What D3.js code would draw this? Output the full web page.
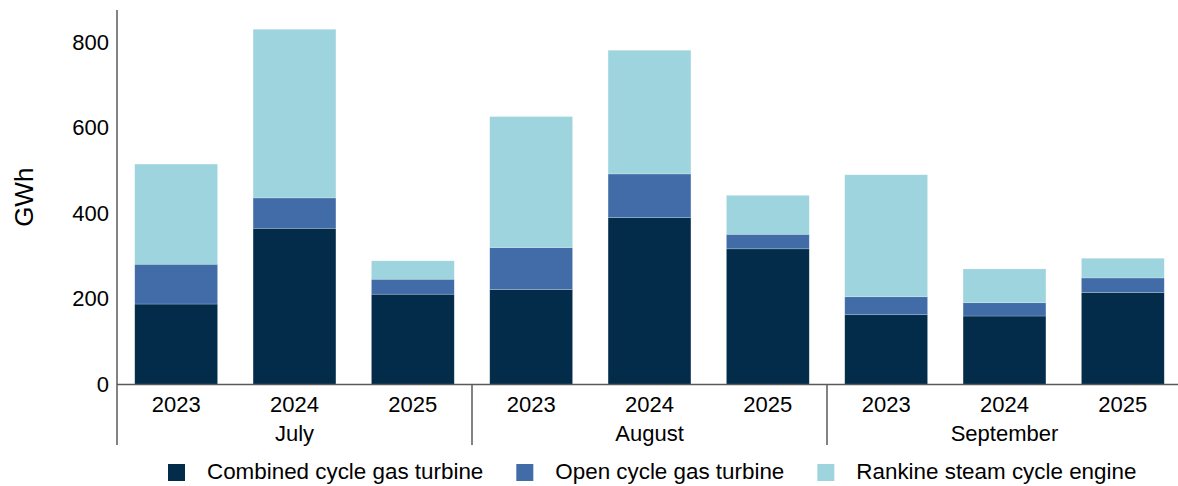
<!DOCTYPE html>
<html>
<head>
<meta charset="utf-8">
<script src="https://cdn.jsdelivr.net/npm/d3@7"></script>
<style>
  html, body { margin: 0; padding: 0; background: #fff; }
  svg { display: block; font-family: "Liberation Sans", Arial, sans-serif; }
</style>
</head>
<body>
<svg id="chart" width="1178" height="486"></svg>
<script>
const months = ["July", "August", "September"];
const years = ["2023", "2024", "2025"];
const seriesNames = ["Combined cycle gas turbine", "Open cycle gas turbine", "Rankine steam cycle engine"];
const seriesColors = ["#022c4a", "#426ca8", "#9dd4dd"];
// values in GWh, order: Jul 23, Jul 24, Jul 25, Aug 23, Aug 24, Aug 25, Sep 23, Sep 24, Sep 25
const combinedCycle = [188, 365, 211, 222, 390, 317, 163, 160, 215];
const openCycle     = [93, 71, 35, 98, 102, 34, 42, 31, 34];
const rankine       = [234, 394, 43, 306, 289, 91, 285, 79, 46];
const yTicks = [0, 200, 400, 600, 800];
const yMax = 875;

(function () {
const svg = d3.select("#chart");
const mLeft = 117, mRight = 1182, mTop = 10, mBottom = 384.5;

const cats = [];
months.forEach(m => years.forEach(y => cats.push({key: m + "-" + y, month: m, year: y})));
const rows = cats.map((c, i) => ({key: c.key, cc: combinedCycle[i], oc: openCycle[i], rk: rankine[i]}));

const x = d3.scaleBand().domain(cats.map(c => c.key)).range([mLeft, mRight]).paddingInner(0.3).paddingOuter(0.15);
const y = d3.scaleLinear().domain([0, yMax]).range([mBottom, mTop]);

const stacked = d3.stack().keys(["cc", "oc", "rk"])(rows);

svg.append("g").selectAll("g.series").data(stacked).join("g")
  .attr("class", "series")
  .attr("fill", (d, i) => seriesColors[i])
  .selectAll("rect").data(d => d).join("rect")
  .attr("x", d => x(d.data.key))
  .attr("width", x.bandwidth())
  .attr("y", d => y(d[1]))
  .attr("height", d => y(d[0]) - y(d[1]))
  .attr("stroke", "#ffffff")
  .attr("stroke-opacity", 0.35)
  .attr("stroke-width", 0.6);

const yAxis = d3.axisLeft(y).tickValues(yTicks).tickSize(0).tickPadding(8);
const ya = svg.append("g").attr("transform", `translate(${mLeft},0)`).call(yAxis);
ya.select(".domain").remove();
ya.selectAll("text").attr("font-size", 22).attr("fill", "#000").attr("font-family", "Liberation Sans, Arial, sans-serif");

const axisColor = "#5a5a5a";
svg.append("line").attr("x1", mLeft).attr("x2", mLeft).attr("y1", mTop).attr("y2", 445)
  .attr("stroke", axisColor).attr("stroke-width", 1.5);
svg.append("line").attr("x1", mLeft).attr("x2", mRight).attr("y1", mBottom).attr("y2", mBottom)
  .attr("stroke", axisColor).attr("stroke-width", 1.5);

const xAxis = d3.axisBottom(x).tickSize(0).tickPadding(12).tickFormat(k => k.split("-")[1]);
const xa = svg.append("g").attr("transform", `translate(0,${mBottom})`).call(xAxis);
xa.select(".domain").remove();
xa.selectAll("text").attr("font-size", 22).attr("fill", "#000").attr("font-family", "Liberation Sans, Arial, sans-serif");

const groupW = x.step() * 3;
months.forEach((m, i) => {
  const gx0 = mLeft + i * groupW;
  svg.append("line").attr("x1", gx0 + groupW).attr("x2", gx0 + groupW).attr("y1", mBottom).attr("y2", 445)
    .attr("stroke", axisColor).attr("stroke-width", 1.5);
  svg.append("text").attr("x", gx0 + groupW / 2).attr("y", 441)
    .attr("text-anchor", "middle").attr("font-size", 22).attr("fill", "#000").text(m);
});

svg.append("text").attr("transform", `translate(33,${(mTop + mBottom) / 2}) rotate(-90)`)
  .attr("text-anchor", "middle").attr("font-size", 26).attr("fill", "#000").text("GWh");

const legend = svg.append("g");
const items = legend.selectAll("g").data(seriesNames).join("g");
items.append("rect").attr("width", 17).attr("height", 17).attr("y", -15).attr("fill", (d, i) => seriesColors[i]);
items.append("text").attr("x", 39).attr("y", 0).attr("font-size", 22.4).attr("fill", "#000").text(d => d);
let cx = 0;
items.each(function () {
  const w = this.getBBox().width;
  d3.select(this).attr("transform", `translate(${cx},0)`);
  cx += w + 33;
});
legend.attr("transform", `translate(168,479)`);
})();
</script>
</body>
</html>
